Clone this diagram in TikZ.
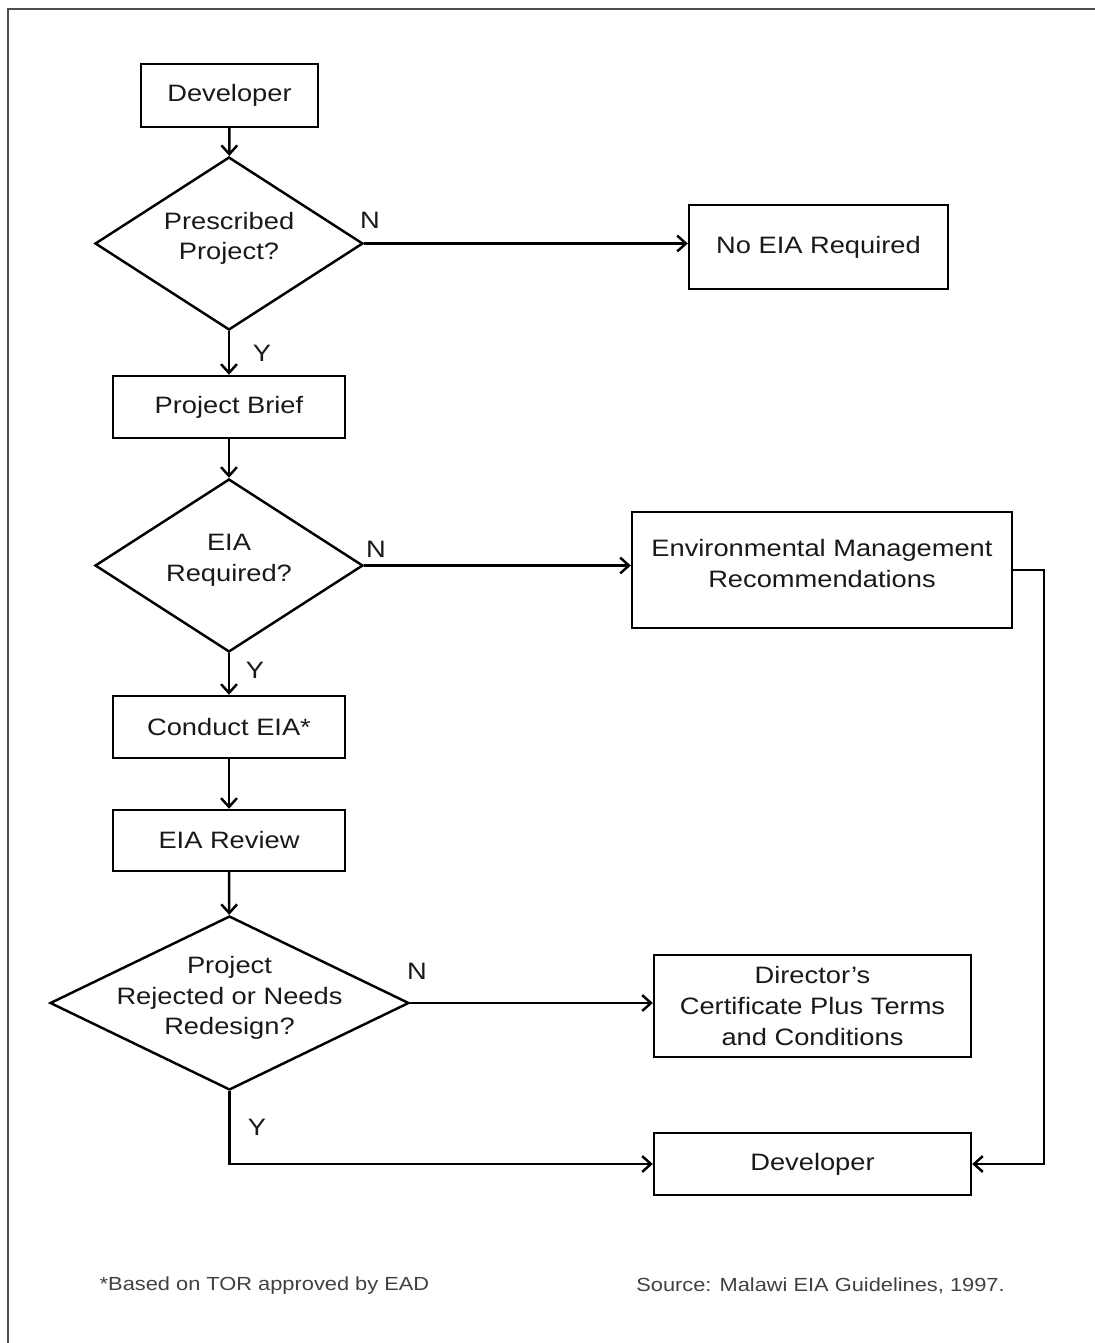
\documentclass[tikz,border=0pt]{standalone}
\usepackage{fontspec}
\setmainfont{Liberation Sans}[FakeStretch=1.15]
\usetikzlibrary{arrows.meta,shapes.geometric}

\begin{document}
\begin{tikzpicture}[
		x=0.02cm,
		y=-0.02cm,
		line width=1.4pt,
		>={Straight Barb[length=5pt,width=9pt]},
		every node/.style={
			font=\fontsize{13.5}{17.5}\selectfont,
			text=black!90,
		},
		process/.style={
			shape=rectangle,
			draw,
			align=center,
			inner sep=4pt,
		},
		decision/.style={
			shape=diamond,
			draw,
			aspect=2,
			align=center,
			text depth=0.3cm,
			inner sep=-8pt,
		},
		answer/.style={
			inner sep=0pt,
		},
		note/.style={
			font=\fontsize{10.8}{13}\selectfont,
			text=black!75,
		},
	]
		\useasboundingbox (0,0) rectangle (1095,1343);
		\draw[black!70, line width=1.2pt] (1095,9) -- (8,9) -- (8,1343);

		% left column
		\node[process, minimum width=3.54cm, minimum height=1.26cm] (developer) at (229.5,95.5) {Developer};
		\node[decision, minimum width=5.36cm, minimum height=3.46cm] (prescribed) at (229,243.5) {Prescribed\\Project?};
		\node[process, minimum width=4.64cm, minimum height=1.24cm] (brief) at (229,407) {Project Brief};
		\node[decision, minimum width=5.36cm, minimum height=3.46cm] (eiarequired) at (229,565.5) {EIA\\Required?};
		\node[process, minimum width=4.64cm, minimum height=1.24cm] (conduct) at (229,727) {Conduct EIA*};
		\node[process, minimum width=4.64cm, minimum height=1.22cm] (review) at (229,840.5) {EIA Review};
		\node[decision, minimum width=7.18cm, minimum height=3.48cm] (rejected) at (229.5,1003) {Project\\Rejected or Needs\\Redesign?};

		% right column
		\node[process, minimum width=5.18cm, minimum height=1.68cm] (noeia) at (818.5,247) {No EIA Required};
		\node[process, minimum width=7.6cm, minimum height=2.32cm, text depth=0.25cm] (emr) at (822,570) {Environmental Management\\Recommendations};
		\node[process, minimum width=6.34cm, minimum height=2.04cm] (certificate) at (812.5,1006) {Director's\\Certificate Plus Terms\\and Conditions};
		\node[process, minimum width=6.34cm, minimum height=1.24cm] (developerb) at (812.5,1164) {Developer};

		% answers
		\node[answer] (nprescribed) at (370,220) {N};
		\node[answer] (yprescribed) at (262,353) {Y};
		\node[answer] (neiarequired) at (376,549) {N};
		\node[answer] (yeiarequired) at (255,670) {Y};
		\node[answer] (nrejected) at (417,971) {N};
		\node[answer] (yrejected) at (257,1127) {Y};

		% connectors
		\draw[->] (developer) -- (prescribed);
		\draw[->] (prescribed.east) -- (prescribed.east -| noeia.west);
		\draw[->] (prescribed) -- (brief);
		\draw[->] (brief) -- (eiarequired);
		\draw[->] (eiarequired.east) -- (eiarequired.east -| emr.west);
		\draw[->] (eiarequired) -- (conduct);
		\draw[->] (conduct) -- (review);
		\draw[->] (review) -- (rejected);
		\draw[->] (rejected.east) -- (rejected.east -| certificate.west);
		\draw[->] (rejected.south) |- (developerb.west);
		\draw[->] (emr.east) -- ++(31,0) |- (developerb.east);

		% notes
		\node[note] (basis) at (264.5,1286) {*Based on TOR approved by EAD};
		\node[note] (source) at (820.5,1286) {Source: Malawi EIA Guidelines, 1997.};
	\end{tikzpicture}
\end{document}
